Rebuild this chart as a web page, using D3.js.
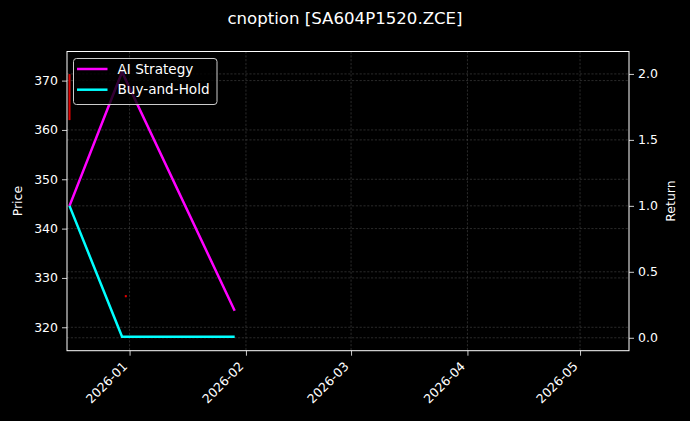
<!DOCTYPE html>
<html>
<head>
<meta charset="utf-8">
<script src="https://cdn.jsdelivr.net/npm/d3@7"></script>
<style>
  body { margin: 0; background: #000; }
  svg { display: block; font-family: "DejaVu Sans", sans-serif; }
</style>
</head>
<body>
<svg id="chart" width="690" height="421"></svg>
<script>
// candle data (price, left axis)
var candleDates = ["2025-12-16", "2025-12-31"];
var candleOpen  = [371.3, 326.5];
var candleClose = [362.0, 326.1];
var candleHigh  = [371.3, 326.5];
var candleLow   = [362.0, 326.1];

// equity curves (return, right axis)
var curveDates  = ["2025-12-16", "2025-12-30", "2026-01-29"];
var aiStrategy  = [1.0, 2.015, 0.205];
var buyAndHold  = [1.0, 0.008, 0.008];

var priceTicks  = [320, 330, 340, 350, 360, 370];
var returnTicks = [0.0, 0.5, 1.0, 1.5, 2.0];

var width = 690, height = 421;
var margin = {left: 67, right: 61, top: 51.5, bottom: 70.3};
var innerW = width - margin.left - margin.right,
    innerH = height - margin.top - margin.bottom;

var parse = d3.utcParse("%Y-%m-%d");

var x = d3.scaleUtc()
    .domain([new Date(Date.UTC(2025, 11, 15, 8)), new Date(Date.UTC(2026, 4, 14, 1))])
    .range([0, innerW]);
var yPrice = d3.scaleLinear().domain([315.25, 375.9]).range([innerH, 0]);
var yRet = d3.scaleLinear().domain([-0.098, 2.17]).range([innerH, 0]);

var svg = d3.select("#chart");
svg.append("rect").attr("width", width).attr("height", height).attr("fill", "#000");

svg.append("text")
    .attr("x", 345).attr("y", 24)
    .attr("text-anchor", "middle")
    .attr("fill", "#fff")
    .style("font-size", "16.6px")
    .text("cnoption [SA604P1520.ZCE]");

var g = svg.append("g").attr("transform", "translate(" + margin.left + "," + margin.top + ")");

var monthTicks = x.ticks(d3.utcMonth.every(1));

// grid
var grid = g.append("g")
    .attr("stroke", "#666")
    .attr("stroke-width", 0.6)
    .attr("stroke-dasharray", "2.2,1.6")
    .attr("opacity", 0.7);
grid.selectAll(".vg").data(monthTicks).enter().append("line")
    .attr("x1", function(d) { return x(d); }).attr("x2", function(d) { return x(d); })
    .attr("y1", 0).attr("y2", innerH);
grid.selectAll(".hp").data(priceTicks).enter().append("line")
    .attr("x1", 0).attr("x2", innerW)
    .attr("y1", function(d) { return yPrice(d); }).attr("y2", function(d) { return yPrice(d); });
grid.selectAll(".hr").data(returnTicks).enter().append("line")
    .attr("x1", 0).attr("x2", innerW)
    .attr("y1", function(d) { return yRet(d); }).attr("y2", function(d) { return yRet(d); });

// candles
var candles = candleDates.map(function(d, i) {
  return {date: parse(d), open: candleOpen[i], close: candleClose[i], high: candleHigh[i], low: candleLow[i]};
});
var cg = g.selectAll(".candle").data(candles).enter().append("g");
cg.append("line")
    .attr("x1", function(d) { return x(d.date); }).attr("x2", function(d) { return x(d.date); })
    .attr("y1", function(d) { return yPrice(d.high); })
    .attr("y2", function(d) { return yPrice(d.low); })
    .attr("stroke", "#e00000").attr("stroke-width", 1);
cg.append("rect")
    .attr("x", function(d) { return x(d.date) - 1; })
    .attr("width", 2)
    .attr("y", function(d) { return yPrice(Math.max(d.open, d.close)); })
    .attr("height", function(d) { return Math.max(0.6, Math.abs(yPrice(d.open) - yPrice(d.close))); })
    .attr("fill", function(d) { return d.close < d.open ? "#e00000" : "#00c000"; });

// return lines
var line = d3.line()
    .x(function(d) { return x(d.date); })
    .y(function(d) { return yRet(d.v); });
function series(vals) {
  return curveDates.map(function(d, i) { return {date: parse(d), v: vals[i]}; });
}
g.append("path").datum(series(aiStrategy))
    .attr("d", line).attr("fill", "none")
    .attr("stroke", "#ff00ff").attr("stroke-width", 2.5);
g.append("path").datum(series(buyAndHold))
    .attr("d", line).attr("fill", "none")
    .attr("stroke", "#00ffff").attr("stroke-width", 2.5);

// axes
function styleAxis(sel) {
  sel.selectAll(".domain").remove();
  sel.selectAll("line").attr("stroke", "#fff").attr("stroke-width", 0.8);
  sel.selectAll("text").attr("fill", "#fff").style("font-size", "12.5px").style("font-family", "DejaVu Sans");
}

g.append("g")
    .call(d3.axisLeft(yPrice).tickValues(priceTicks).tickSize(5).tickPadding(4).tickFormat(d3.format("d")))
    .call(styleAxis);

g.append("g")
    .attr("transform", "translate(" + innerW + ",0)")
    .call(d3.axisRight(yRet).tickValues(returnTicks).tickSize(5).tickPadding(4).tickFormat(d3.format(".1f")))
    .call(styleAxis);

var xa = g.append("g")
    .attr("transform", "translate(0," + innerH + ")")
    .call(d3.axisBottom(x).tickValues(monthTicks).tickSize(5).tickFormat(d3.utcFormat("%Y-%m")))
    .call(styleAxis);
xa.selectAll("text")
    .attr("text-anchor", "end")
    .attr("x", 0).attr("y", 0)
    .attr("dx", "0").attr("dy", "0")
    .attr("transform", "translate(-2,16.5) rotate(-45)");

// frame
g.append("rect")
    .attr("width", innerW).attr("height", innerH)
    .attr("fill", "none").attr("stroke", "#fff").attr("stroke-width", 1);

// axis titles
svg.append("text")
    .attr("transform", "translate(21.5," + (margin.top + innerH / 2) + ") rotate(-90)")
    .attr("text-anchor", "middle").attr("fill", "#fff")
    .style("font-size", "12.5px")
    .text("Price");
svg.append("text")
    .attr("transform", "translate(675," + (margin.top + innerH / 2) + ") rotate(-90)")
    .attr("text-anchor", "middle").attr("fill", "#fff")
    .style("font-size", "12.5px")
    .text("Return");

// legend
var legendItems = [{name: "AI Strategy", color: "#ff00ff"}, {name: "Buy-and-Hold", color: "#00ffff"}];
var lg = svg.append("g").attr("transform", "translate(73.5,58.5)");
lg.append("rect")
    .attr("width", 143.5).attr("height", 46)
    .attr("rx", 3).attr("ry", 3)
    .attr("fill", "#000").attr("fill-opacity", 0.8)
    .attr("stroke", "#ccc").attr("stroke-width", 1);
var li = lg.selectAll(".li").data(legendItems).enter().append("g")
    .attr("transform", function(d, i) { return "translate(0," + (10.5 + i * 20.7) + ")"; });
li.append("line")
    .attr("x1", 3.5).attr("x2", 34)
    .attr("stroke", function(d) { return d.color; })
    .attr("stroke-width", 2.5);
li.append("text")
    .attr("x", 44).attr("dy", "0.35em")
    .attr("fill", "#fff")
    .style("font-size", "13.6px")
    .text(function(d) { return d.name; });
</script>
</body>
</html>
